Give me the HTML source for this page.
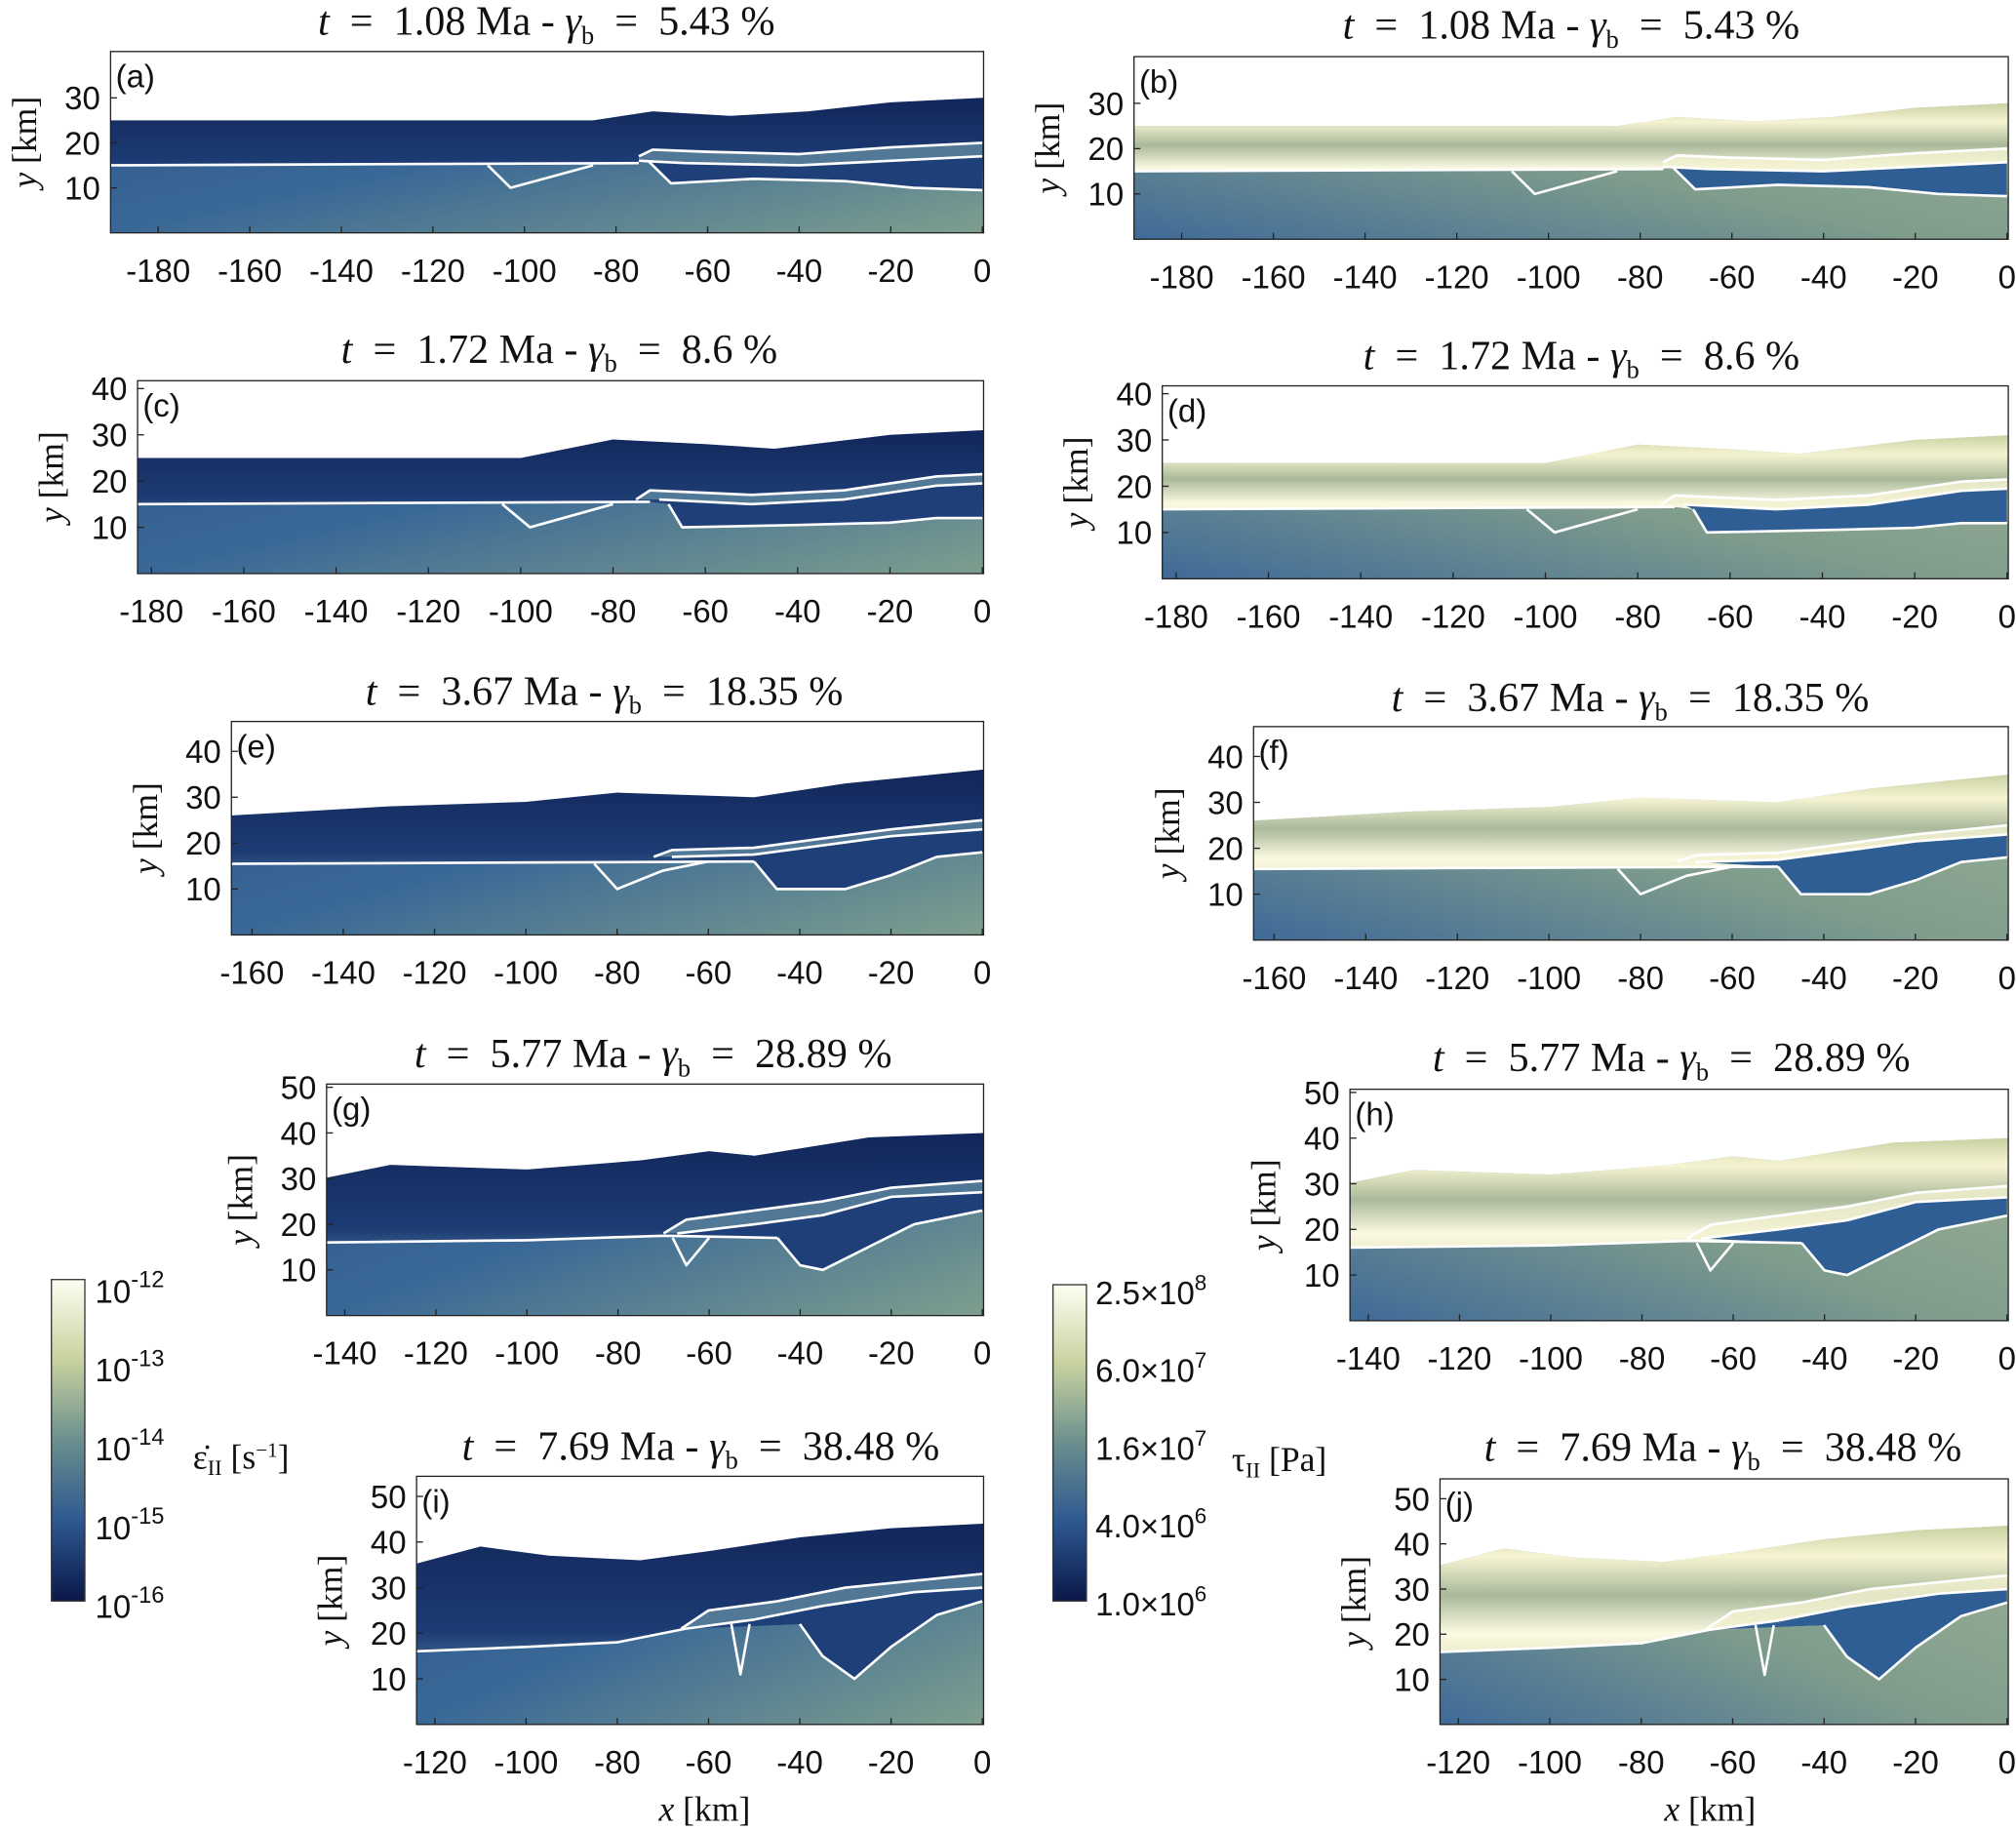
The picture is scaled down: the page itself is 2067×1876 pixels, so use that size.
<!DOCTYPE html>
<html><head><meta charset="utf-8">
<style>
html,body{margin:0;padding:0;background:#fff;}
svg{display:block;}
text{fill:#111;}
.tk{font-family:"Liberation Sans",sans-serif;font-size:25px;}
.tt{font-family:"Liberation Serif",serif;font-size:32px;}
.lb{font-family:"Liberation Serif",serif;font-size:27px;}
</style></head>
<body>
<svg id="fig" width="2067" height="1876" viewBox="0 0 1568 1423" xmlns="http://www.w3.org/2000/svg">
<defs>
<linearGradient id="cbL" x1="0" y1="1" x2="0" y2="0">
<stop offset="0" stop-color="#0a1848"/><stop offset="0.25" stop-color="#2d5890"/><stop offset="0.5" stop-color="#6b8f8e"/><stop offset="0.75" stop-color="#c8d29f"/><stop offset="1" stop-color="#fefef2"/></linearGradient>
<linearGradient id="mantL" x1="0" y1="0" x2="1" y2="1">
<stop offset="0" stop-color="#2a548c"/><stop offset="0.5" stop-color="#3a6896"/><stop offset="1" stop-color="#7e9f8e"/></linearGradient>
<linearGradient id="crustL" x1="0" y1="0" x2="0" y2="1">
<stop offset="0" stop-color="#12265a"/><stop offset="0.7" stop-color="#1d3c74"/><stop offset="1" stop-color="#4f7a9a"/></linearGradient>
<linearGradient id="mantR" x1="1" y1="0" x2="0" y2="1">
<stop offset="0" stop-color="#9fb396"/><stop offset="0.55" stop-color="#7f9c8c"/><stop offset="1" stop-color="#3f6a98"/></linearGradient>
<linearGradient id="crustR" x1="0" y1="0" x2="0" y2="1">
<stop offset="0" stop-color="#c9d1a2"/><stop offset="0.2" stop-color="#f6f4d2"/><stop offset="0.45" stop-color="#a9b99a"/><stop offset="0.7" stop-color="#fbf9e2"/><stop offset="1" stop-color="#d9dcb0"/></linearGradient>
</defs>
</svg>
<script>
const panelIds=['a','b','c','d','e','f','g','h','i','j'];
const times=['1.08','1.72','3.67','5.77','7.69'];
const gammas=['5.43','8.6','18.35','28.89','38.48'];
const xMins=[-190.4,-183,-164.5,-144,-124];
const yMaxs=[40.3,41.7,46.5,50.7,54.4];
const yTickSets=[[10,20,30],[10,20,30,40],[10,20,30,40],[10,20,30,40,50],[10,20,30,40,50]];
const surfaces=[
[[-191,25],[-85,25],[-72,27],[-55,26],[-38,27],[-20,29],[0,30]],
[[-184,25],[-100,25],[-80,29],[-60,28],[-45,27],[-20,30],[0,31]],
[[-165,26],[-130,28],[-100,29],[-80,31],[-50,30],[-30,33],[0,36]],
[[-145,30],[-130,33],[-100,32],[-75,34],[-60,36],[-50,35],[-25,39],[0,40]],
[[-125,35],[-110,39],[-95,37],[-75,36],[-60,38],[-40,41],[-20,43],[0,44]]];
const baseLines=[
[[-191,15],[-75,15.5]],[[-184,15],[-72,15.5]],[[-165,15.5],[-50,16]],[[-145,16],[-100,16.5],[-70,17.5],[-45,17]],[[-125,16],[-100,17],[-80,18],[-65,21]]];
const topLines=[
[[-75,17],[-72,18.5],[-60,18],[-40,17.5],[-20,19],[0,20]],
[[-75,16],[-72,18],[-50,17],[-30,18],[-10,21],[0,21.5]],
[[-72,17],[-68,18.5],[-50,19],[-35,21],[-20,23],[0,25]],
[[-70,18],[-65,21],[-50,23],[-35,25],[-20,28],[0,29.5]],
[[-66,21],[-60,25],[-45,27],[-30,30],[-10,32],[0,33]]];
const midLines=[
[[-75,16],[-65,15.5],[-40,15],[-20,16],[0,17]],
[[-70,16],[-50,15],[-30,16],[-10,19],[0,19.5]],
[[-68,17],[-50,17.5],[-35,19.5],[-20,21.5],[0,23]],
[[-67,18],[-50,20],[-35,22],[-20,26],[0,27]],
[[-65,21],[-50,23],[-35,26],[-15,29],[0,30]]];
const botLines=[
[[-73,16],[-68,11],[-50,12],[-30,11.5],[-15,10],[0,9.5]],
[[-68,15],[-65,10],[-40,10.5],[-20,11],[-10,12],[0,12]],
[[-50,16],[-45,10],[-30,10],[-20,13],[-10,17],[0,18]],
[[-45,17],[-40,11],[-35,10],[-25,15],[-15,20],[0,23]],
[[-40,22],[-35,15],[-28,10],[-20,17],[-10,24],[0,27]]];
const wedges=[
[[-108,15],[-103,10],[-85,15]],
[[-104,15],[-98,10],[-80,15]],
[[-85,15.5],[-80,10],[-70,14],[-60,16]],
[[-68,17],[-65,11],[-60,17]],
[[-55,22],[-53,11],[-51,22]]];
const boxes=[[86,40,764,181],[882,44,1561,186],[107,296,764,446],[904,300,1561,450],[180,561,764,727],[975,565,1561,731],[254,843,764,1023],[1050,847,1561,1027],[324,1148,764,1341],[1120,1150,1561,1341]];
const titleX=[425,1222,435,1230,470,1268,508,1300,545,1340];
const titleY=[17,20,272,277,538,543,820,823,1125,1126];

const svg=document.getElementById('fig');
const NS='http://www.w3.org/2000/svg';
function mk(tag,attrs,parent){const e=document.createElementNS(NS,tag);for(const k in attrs)e.setAttribute(k,attrs[k]);(parent||svg).appendChild(e);return e;}

for(let p=0;p<10;p++){
  const row=Math.floor(p/2), right=p%2===1;
  const [x0,y0,x1,y1]=boxes[p];
  const xmin=xMins[row], ymax=yMaxs[row];
  const sx=v=>x0+(v-xmin)/(0-xmin)*(x1-x0);
  const sy=v=>y1-v/ymax*(y1-y0);
  const pts=a=>a.map(q=>sx(q[0]).toFixed(1)+','+sy(q[1]).toFixed(1)).join(' ');
  const g=mk('g',{});
  
  
  const cp=mk('clipPath',{id:'cp'+p},g);
  mk('rect',{x:x0,y:y0,width:x1-x0+1,height:y1-y0},cp);
  const inner=mk('g',{'clip-path':'url(#cp'+p+')'},g);
  const mant=mk('rect',{x:x0,y:y0,width:x1-x0+2,height:y1-y0,fill:right?'url(#mantR)':'url(#mantL)'},inner);
  
  
  const surf=surfaces[row];
  const bl=baseLines[row];
  const blEnd=bl[bl.length-1][0];
  const bottom=[[xmin-2,bl[0][1]]].concat(bl).concat(botLines[row].filter(q=>q[0]>blEnd)).concat([[2,botLines[row][botLines[row].length-1][1]]]);
  const crustPts=[[xmin-2,surf[0][1]]].concat(surf).concat([[2,surf[surf.length-1][1]]]).concat(bottom.slice().reverse());
  const cr=mk('polygon',{points:pts(crustPts),fill:right?'url(#crustR)':'url(#crustL)'},inner);
  
  
  const airPts=[[xmin-2,ymax+2]].concat([[xmin-2,surf[0][1]]]).concat(surf).concat([[2,surf[surf.length-1][1]],[2,ymax+2]]);
  const air=mk('polygon',{points:pts(airPts),fill:'#fff'},inner);
  
  
  const slab=midLines[row].concat(botLines[row].slice().reverse());
  const sl=mk('polygon',{points:pts(slab),fill:right?'#2f5e94':'#1e3f78'},inner);
  
  
  const band=topLines[row].concat(midLines[row].slice().reverse());
  mk('polygon',{points:pts(band),fill:right?'#f3f1d0':'#5f88a0',opacity:0.8},inner);
  [baseLines[row],topLines[row],midLines[row],botLines[row],wedges[row]].forEach((l,i)=>{
    const e=mk('polyline',{points:pts(l),fill:'none',stroke:'#fff','stroke-width':2,'stroke-linejoin':'round'},inner);
    
    
  });
  const fr=mk('rect',{x:x0,y:y0,width:x1-x0+1,height:y1-y0,fill:'none',stroke:'#222','stroke-width':1},g);
  
  
  for(let v=0;v>=xmin;v-=20){
    const X=sx(v);
    mk('line',{x1:X,x2:X,y1:y1,y2:y1-5,stroke:'#222'},g);
    const t=mk('text',{x:X,y:y1+38,'text-anchor':'middle',class:'tk'},g);
    t.textContent=v===0?'0':String(v);
    
    
  }
  yTickSets[row].forEach(v=>{
    const Y=sy(v);
    mk('line',{x1:x0,x2:x0+5,y1:Y,y2:Y,stroke:'#222'},g);
    const t=mk('text',{x:x0-8,y:Y+9,'text-anchor':'end',class:'tk'},g);
    t.textContent=String(v);
    
    
  });
  const yl=mk('text',{x:0,y:0,'text-anchor':'middle',class:'lb',transform:'translate('+(x0-58)+','+((y0+y1)/2)+') rotate(-90)'},g);
  yl.innerHTML='<tspan font-style="italic">y</tspan> [km]';
  
  
  const lt=mk('text',{x:x0+4,y:y0+28,class:'tk'},g);
  lt.textContent='('+panelIds[p]+')';
  
  
  const tt=mk('text',{x:titleX[p],y:titleY[p]+10,'text-anchor':'middle',class:'tt'},g);
  tt.innerHTML='<tspan font-style="italic">t</tspan>  =  '+times[row]+' Ma - <tspan font-style="italic">γ</tspan><tspan font-size="20" dy="7">b</tspan><tspan dy="-7">  =  '+gammas[row]+' %</tspan>';
  tt.style.whiteSpace='pre';
  
  
}
[[548,1416],[1330,1416]].forEach(c=>{
  const t=mk('text',{x:c[0],y:c[1],'text-anchor':'middle',class:'lb'});
  t.innerHTML='<tspan font-style="italic">x</tspan> [km]';
  
  
});
const cbLeftLabels=['-12','-13','-14','-15','-16'];
const cbRightLabels=['2.5×10','6.0×10','1.6×10','4.0×10','1.0×10'];
const cbRightExp=['8','7','7','6','6'];
function colorbar(x,y0,y1,name){
  const r=mk('rect',{x:x,y:y0,width:26,height:y1-y0,fill:'url(#cbL)',stroke:'#333','stroke-width':1});
  
  
}
colorbar(40,995,1245,'colorbar-strain-rate');
colorbar(819,999,1245,'colorbar-stress');
cbLeftLabels.forEach((s,i)=>{
  const Y=1003+i*61.3;
  const t=mk('text',{x:74,y:Y+10,class:'tk'});
  t.innerHTML='10<tspan font-size="18" dy="-12">'+s+'</tspan>';
  
  
});
cbRightLabels.forEach((s,i)=>{
  const Y=1004+i*60.5;
  const t=mk('text',{x:852,y:Y+10,class:'tk','font-size':'23'});
  t.innerHTML=s+'<tspan font-size="17" dy="-11">'+cbRightExp[i]+'</tspan>';
  
  
});
const cl=mk('text',{x:150,y:1142,class:'lb','font-size':'24'});
cl.innerHTML='ε̇<tspan font-size="17" dy="5">II</tspan><tspan dy="-5"> [s</tspan><tspan font-size="16" dy="-9">−1</tspan><tspan dy="9">]</tspan>';


const cr2=mk('text',{x:958,y:1144,class:'lb','font-size':'24'});
cr2.innerHTML='τ<tspan font-size="17" dy="5">II</tspan><tspan dy="-5"> [Pa]</tspan>';


</script>
</body></html>
